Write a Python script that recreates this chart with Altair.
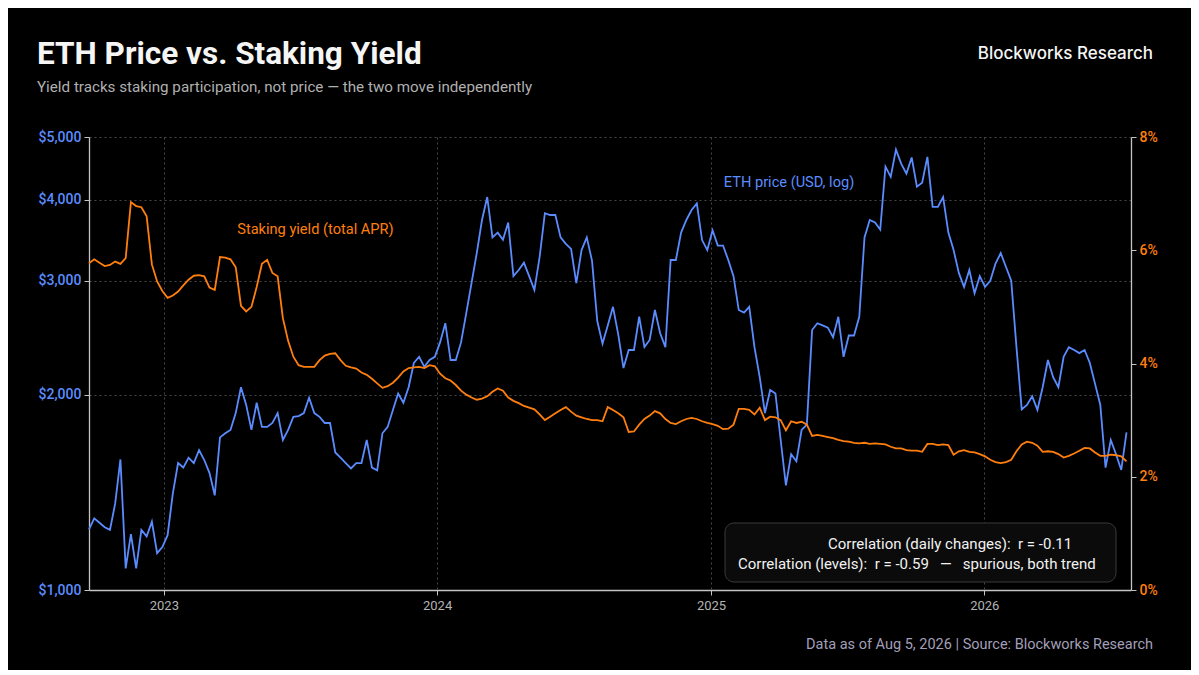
import altair as alt
import pandas as pd

# ---------------- data (weekly samples) ----------------
start_date = "2022-09-23"

price_usd = [
    1240, 1290, 1270, 1250, 1238, 1360, 1590, 1080, 1220, 1080,
    1238, 1210, 1275, 1140, 1165, 1215, 1410, 1570, 1545, 1600,
    1570, 1644, 1587, 1515, 1400, 1720, 1745, 1766, 1875, 2055,
    1930, 1766, 1945, 1785, 1785, 1810, 1875, 1704, 1766, 1850,
    1855, 1875, 1980, 1875, 1850, 1810, 1810, 1630, 1600, 1570,
    1540, 1570, 1570, 1704, 1545, 1530, 1745, 1785, 1896, 2010,
    1945, 2055, 2240, 2290, 2210, 2264, 2290, 2410, 2580, 2264,
    2264, 2410, 2675, 2975, 3310, 3723, 4040, 3500, 3560, 3470,
    3690, 3050, 3117, 3200, 3050, 2903, 3265, 3815, 3790, 3790,
    3500, 3420, 3360, 2975, 3346, 3500, 3220, 2600, 2400, 2560,
    2735, 2480, 2200, 2346, 2346, 2640, 2370, 2431, 2704, 2490,
    2370, 3230, 3230, 3560, 3723, 3857, 3950, 3467, 3346, 3590,
    3400, 3400, 3230, 3050, 2704, 2680, 2735, 2370, 2130, 1875,
    2035, 2010, 1704, 1450, 1620, 1580, 1766, 1800, 2519, 2580,
    2560, 2540, 2455, 2640, 2290, 2470, 2470, 2640, 3500, 3723,
    3690, 3600, 4500, 4340, 4780, 4550, 4390, 4650, 4190, 4250,
    4660, 3900, 3900, 4040, 3560, 3346, 3085, 2935, 3117, 2870,
    3050, 2935, 3000, 3190, 3310, 3150, 3000, 2370, 1900, 1930,
    1990, 1896, 2055, 2264, 2130, 2055, 2290, 2370, 2346, 2320,
    2346, 2240, 2080, 1930, 1545, 1704, 1620, 1532, 1750,
]

yield_pct = [
    5.77, 5.84, 5.78, 5.72, 5.74, 5.80, 5.76, 5.86, 6.85, 6.78,
    6.76, 6.60, 5.75, 5.45, 5.28, 5.16, 5.20, 5.27, 5.38, 5.48,
    5.55, 5.56, 5.54, 5.34, 5.30, 5.88, 5.87, 5.84, 5.70, 5.02,
    4.92, 5.00, 5.35, 5.76, 5.83, 5.60, 5.54, 4.80, 4.40, 4.12,
    3.97, 3.94, 3.94, 3.94, 4.06, 4.14, 4.17, 4.18, 4.06, 3.96,
    3.93, 3.91, 3.84, 3.80, 3.73, 3.65, 3.57, 3.60, 3.66, 3.75,
    3.86, 3.92, 3.93, 3.94, 3.92, 3.97, 3.95, 3.82, 3.74, 3.70,
    3.62, 3.52, 3.45, 3.40, 3.36, 3.38, 3.42, 3.50, 3.56, 3.52,
    3.40, 3.34, 3.30, 3.25, 3.22, 3.19, 3.10, 3.00, 3.06, 3.12,
    3.18, 3.23, 3.15, 3.08, 3.05, 3.02, 3.00, 3.00, 2.98, 3.23,
    3.18, 3.12, 3.05, 2.79, 2.80, 2.92, 3.02, 3.08, 3.16, 3.12,
    3.02, 2.95, 2.93, 2.98, 3.02, 3.04, 3.02, 2.98, 2.95, 2.93,
    2.90, 2.84, 2.85, 2.92, 3.20, 3.20, 3.18, 3.10, 3.22, 3.00,
    3.06, 3.05, 3.00, 2.82, 2.98, 2.95, 2.97, 2.92, 2.72, 2.74,
    2.72, 2.70, 2.68, 2.65, 2.63, 2.62, 2.60, 2.59, 2.60, 2.58,
    2.59, 2.58, 2.57, 2.53, 2.50, 2.50, 2.47, 2.46, 2.46, 2.44,
    2.58, 2.58, 2.56, 2.57, 2.56, 2.39, 2.45, 2.47, 2.44, 2.43,
    2.40, 2.36, 2.30, 2.26, 2.24, 2.26, 2.30, 2.45, 2.57, 2.62,
    2.60, 2.55, 2.44, 2.45, 2.44, 2.40, 2.34, 2.37, 2.41, 2.46,
    2.51, 2.50, 2.43, 2.37, 2.37, 2.39, 2.38, 2.36, 2.27,
]

year_ticks = [2023, 2024, 2025, 2026]
price_ticks = [1000, 2000, 3000, 4000, 5000]
yield_ticks = [0, 2, 4, 6, 8]

title_text = "ETH Price vs. Staking Yield"
subtitle_text = "Yield tracks staking participation, not price \u2014 the two move independently"
brand_text = "Blockworks Research"
footer_text = "Data as of Aug 5, 2026 | Source: Blockworks Research"
corr_line1 = "Correlation (daily changes):\u00a0 r = -0.11"
corr_line2 = "Correlation (levels):\u00a0 r = -0.59\u00a0\u00a0 \u2014\u00a0\u00a0 spurious, both trend"

price_label = {"date": "2025-01-18", "price": 4250, "label": "ETH price (USD, log)"}
yield_label = {"date": "2023-04-09", "apr": 6.36, "label": "Staking yield (total APR)"}

dates = pd.date_range(start_date, periods=len(price_usd), freq="7D")
df = pd.DataFrame({"date": dates, "price": price_usd, "apr": yield_pct})

# ---------------- style ----------------
FONT = "Roboto"
BLUE = "#5b8cff"
ORANGE = "#ff7f0e"
AXIS_GRAY = "#c4c4c4"
GRID = "#505050"

x_enc = alt.X(
    "date:T",
    scale=alt.Scale(domain=[alt.DateTime(year=2022, month=9, date=23),
                            alt.DateTime(year=2026, month=7, date=16)]),
    axis=alt.Axis(
        title=None,
        values=[alt.DateTime(year=y, month=1, date=1) for y in year_ticks],
        format="%Y", grid=True, gridDash=[2, 3], gridColor=GRID, gridWidth=0.9,
        labelColor="#b3b3b3", labelFontSize=13, labelFont=FONT, labelPadding=4,
        tickColor=AXIS_GRAY, tickSize=5, domainColor=AXIS_GRAY, domainWidth=1.3,
    ),
)

price_line = alt.Chart(df).mark_line(color=BLUE, strokeWidth=1.8).encode(
    x=x_enc,
    y=alt.Y(
        "price:Q",
        scale=alt.Scale(type="log", domain=[1000, 5000], nice=False),
        axis=alt.Axis(
            title=None, orient="left", values=price_ticks, format="$,.0f",
            labelColor=BLUE, labelFontSize=14, labelFont=FONT, labelFontWeight=500,
            labelPadding=3, grid=True, gridDash=[2, 3], gridColor=GRID, gridWidth=0.9,
            tickColor=AXIS_GRAY, tickSize=5, domainColor=AXIS_GRAY, domainWidth=1.3,
        ),
    ),
)

price_text = alt.Chart(pd.DataFrame([price_label])).mark_text(
    align="left", baseline="middle", color=BLUE, font=FONT, fontSize=14.6
).encode(x=alt.X("date:T"), y=alt.Y("price:Q"), text="label:N")

yield_line = alt.Chart(df).mark_line(color=ORANGE, strokeWidth=1.8).encode(
    x=x_enc,
    y=alt.Y(
        "apr:Q",
        scale=alt.Scale(domain=[0, 8], nice=False),
        axis=alt.Axis(
            title=None, orient="right", values=yield_ticks,
            labelExpr="datum.value + '%'",
            labelColor=ORANGE, labelFontSize=14, labelFont=FONT, labelFontWeight=500,
            labelPadding=3, grid=False,
            tickColor=AXIS_GRAY, tickSize=5, domainColor=AXIS_GRAY, domainWidth=1.3,
        ),
    ),
)

yield_text = alt.Chart(pd.DataFrame([yield_label])).mark_text(
    align="left", baseline="middle", color=ORANGE, font=FONT, fontSize=14.6
).encode(x=alt.X("date:T"), y=alt.Y("apr:Q"), text="label:N")

one = pd.DataFrame({"k": [0]})


def label(text, x, y, size, color, align="left", weight="normal", font=FONT):
    return alt.Chart(pd.DataFrame({"t": [text]})).mark_text(
        align=align, baseline="alphabetic", fontSize=size, color=color,
        fontWeight=weight, font=font
    ).encode(text="t:N", x=alt.value(x), y=alt.value(y))


box = alt.Chart(one).mark_rect(
    cornerRadius=9, fill="#0b0b0b", stroke="#3a3a3a", strokeWidth=1
).encode(x=alt.value(636), x2=alt.value(1027), y=alt.value(386), y2=alt.value(445))

layers = [
    alt.layer(price_line, price_text),
    alt.layer(yield_line, yield_text),
]

chart = alt.layer(
    *layers,
    box,
    label(corr_line1, 739, 412, 15, "#f2f2f2"),
    label(corr_line2, 649, 432, 15, "#f2f2f2"),
    label(title_text, -52, -73, 31.5, "#f5f5f5", weight="bold"),
    label(subtitle_text, -52, -45, 15.2, "#b0b0b0"),
    label(brand_text, 1064, -78, 17, "#f5f5f5", align="right", weight=500, font="Inter"),
    label(footer_text, 1064, 512, 14.5, "#a29fb8", align="right"),
).resolve_scale(y="independent").properties(
    width=1042,
    height=453,
    padding={"left": 81, "top": 129, "right": 60, "bottom": 80},
    autosize=alt.AutoSizeParams(type="none"),
).configure(background="#000000", font=FONT).configure_view(stroke=None)

chart.save("out.html", embed_options={"renderer": "svg", "actions": False})
